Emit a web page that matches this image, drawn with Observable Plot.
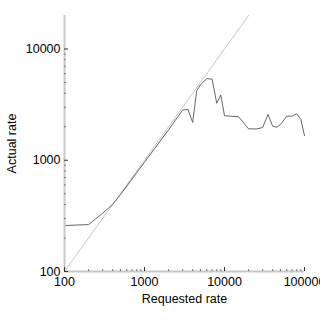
<!DOCTYPE html>
<html><head><meta charset="utf-8">
<script src="https://cdn.jsdelivr.net/npm/d3@7"></script>
<script src="https://cdn.jsdelivr.net/npm/@observablehq/plot@0.6"></script>
<style>body{margin:0;background:#fff}</style>
</head><body><div id="chart"></div>
<script>
const requested = [100, 200, 300, 400, 500, 1000, 2000, 3000, 3500, 4000, 4500, 5000, 6000, 7000, 8000, 9000, 10000, 15000, 20000, 25000, 30000, 35000, 40000, 45000, 50000, 60000, 70000, 80000, 90000, 100000];
const actual =    [259, 264, 334, 401, 490, 960, 1880, 2830, 2865, 2190, 4230, 4750, 5420, 5360, 3250, 3865, 2510, 2460, 1915, 1910, 1968, 2580, 2023, 1980, 2095, 2490, 2490, 2618, 2326, 1666];
const reference = [100, 20000];
const xMajor = [100, 1000, 10000, 100000];
const yMajor = [100, 1000, 10000];
const xMinor = [200, 300, 400, 500, 600, 700, 800, 900, 2000, 3000, 4000, 5000, 6000, 7000, 8000, 9000, 20000, 30000, 40000, 50000, 60000, 70000, 80000, 90000];
const yMinor = [200, 300, 400, 500, 600, 700, 800, 900, 2000, 3000, 4000, 5000, 6000, 7000, 8000, 9000];
const xLabel = "Requested rate";
const yLabel = "Actual rate";

const data = requested.map((x, i) => ({requested: x, actual: actual[i]}));

const plot = Plot.plot({
  width: 320, height: 320,
  marginLeft: 64, marginRight: 16, marginTop: 15, marginBottom: 49,
  style: {fontFamily: "'Liberation Sans', Arial, sans-serif", fontSize: "12.5px", color: "#000", background: "#fff"},
  x: {type: "log", domain: [100, 100000], axis: null, label: null},
  y: {type: "log", domain: [100, 20000], axis: null, label: null},
  marks: [
    Plot.line(reference, {x: d => d, y: d => d, stroke: "#c8c8c8", strokeWidth: 1}),
    Plot.line(data, {x: "requested", y: "actual", stroke: "#666", strokeWidth: 1}),
    Plot.ruleX([100], {stroke: "#c8c8c8", strokeWidth: 2}),
    Plot.ruleY([100], {stroke: "#c8c8c8", strokeWidth: 2}),
    Plot.axisX(xMinor, {anchor: "bottom", tickSize: -2, stroke: "#777", fill: "none", label: null}),
    Plot.axisX(xMajor, {anchor: "bottom", tickSize: -4, stroke: "#333", fill: "none", label: null}),
    Plot.axisY(yMinor, {anchor: "left", tickSize: -2, stroke: "#777", fill: "none", label: null}),
    Plot.axisY(yMajor, {anchor: "left", tickSize: -4, stroke: "#333", fill: "none", label: null}),
    Plot.axisX(xMajor, {anchor: "bottom", tickSize: 0, tickPadding: 6, tickFormat: d => String(d), fill: "#000", label: null}),
    Plot.axisY(yMajor, {anchor: "left", tickSize: 0, tickPadding: 4, tickFormat: d => String(d), fill: "#000", label: null}),
    Plot.text([xLabel], {frameAnchor: "bottom", textAnchor: "middle", lineAnchor: "middle", dy: 27.5, fill: "#000"}),
    Plot.text([yLabel], {frameAnchor: "left", textAnchor: "middle", lineAnchor: "middle", rotate: -90, dx: -53, fill: "#000"})
  ]
});
document.getElementById("chart").appendChild(plot);
</script>
</body></html>
